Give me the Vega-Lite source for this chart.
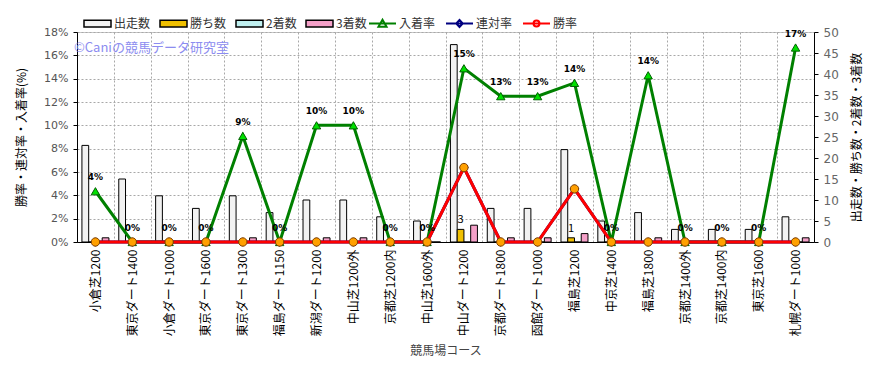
{
  "$schema": "https://vega.github.io/schema/vega-lite/v6.json",
  "width": 737,
  "height": 210,
  "autosize": {"type": "none"},
  "padding": {"left": 77, "top": 32, "right": 68, "bottom": 136},
  "background": "white",
  "config": {
    "font": "Noto Sans CJK JP",
    "view": {"fill": "#FAF0DC", "stroke": "#C8C8C8", "strokeWidth": 1},
    "axis": {"labelFont": "Noto Sans CJK JP", "titleFont": "Noto Sans CJK JP", "labelFontSize": 12, "titleFontSize": 12, "titleFontWeight": "normal"},
    "axisY": {"labelOverlap": false, "labelFont": "DejaVu Sans", "labelFontSize": 11},
    "legend": {"labelFont": "Noto Sans CJK JP", "labelFontSize": 12, "labelColor": "#333333"}
  },
  "datasets": {
    "main": [
      {"course": "小倉芝1200", "出走数": 23, "勝ち数": 0, "2着数": 0, "3着数": 1, "入着率": 0.0435, "連対率": 0, "勝率": 0},
      {"course": "東京ダート1400", "出走数": 15, "勝ち数": 0, "2着数": 0, "3着数": 0, "入着率": 0, "連対率": 0, "勝率": 0},
      {"course": "小倉ダート1000", "出走数": 11, "勝ち数": 0, "2着数": 0, "3着数": 0, "入着率": 0, "連対率": 0, "勝率": 0},
      {"course": "東京ダート1600", "出走数": 8, "勝ち数": 0, "2着数": 0, "3着数": 0, "入着率": 0, "連対率": 0, "勝率": 0},
      {"course": "東京ダート1300", "出走数": 11, "勝ち数": 0, "2着数": 0, "3着数": 1, "入着率": 0.0909, "連対率": 0, "勝率": 0},
      {"course": "福島ダート1150", "出走数": 7, "勝ち数": 0, "2着数": 0, "3着数": 0, "入着率": 0, "連対率": 0, "勝率": 0},
      {"course": "新潟ダート1200", "出走数": 10, "勝ち数": 0, "2着数": 0, "3着数": 1, "入着率": 0.1, "連対率": 0, "勝率": 0},
      {"course": "中山芝1200外", "出走数": 10, "勝ち数": 0, "2着数": 0, "3着数": 1, "入着率": 0.1, "連対率": 0, "勝率": 0},
      {"course": "京都芝1200内", "出走数": 6, "勝ち数": 0, "2着数": 0, "3着数": 0, "入着率": 0, "連対率": 0, "勝率": 0},
      {"course": "中山芝1600外", "出走数": 5, "勝ち数": 0, "2着数": 0, "3着数": 0, "入着率": 0, "連対率": 0, "勝率": 0},
      {"course": "中山ダート1200", "出走数": 47, "勝ち数": 3, "2着数": 0, "3着数": 4, "入着率": 0.1489, "連対率": 0.0638, "勝率": 0.0638},
      {"course": "京都ダート1800", "出走数": 8, "勝ち数": 0, "2着数": 0, "3着数": 1, "入着率": 0.125, "連対率": 0, "勝率": 0},
      {"course": "函館ダート1000", "出走数": 8, "勝ち数": 0, "2着数": 0, "3着数": 1, "入着率": 0.125, "連対率": 0, "勝率": 0},
      {"course": "福島芝1200", "出走数": 22, "勝ち数": 1, "2着数": 0, "3着数": 2, "入着率": 0.1364, "連対率": 0.0455, "勝率": 0.0455},
      {"course": "中京芝1400", "出走数": 5, "勝ち数": 0, "2着数": 0, "3着数": 0, "入着率": 0, "連対率": 0, "勝率": 0},
      {"course": "福島芝1800", "出走数": 7, "勝ち数": 0, "2着数": 0, "3着数": 1, "入着率": 0.1429, "連対率": 0, "勝率": 0},
      {"course": "京都芝1400外", "出走数": 3, "勝ち数": 0, "2着数": 0, "3着数": 0, "入着率": 0, "連対率": 0, "勝率": 0},
      {"course": "京都芝1400内", "出走数": 3, "勝ち数": 0, "2着数": 0, "3着数": 0, "入着率": 0, "連対率": 0, "勝率": 0},
      {"course": "東京芝1600", "出走数": 3, "勝ち数": 0, "2着数": 0, "3着数": 0, "入着率": 0, "連対率": 0, "勝率": 0},
      {"course": "札幌ダート1000", "出走数": 6, "勝ち数": 0, "2着数": 0, "3着数": 1, "入着率": 0.1667, "連対率": 0, "勝率": 0}
    ],
    "legendSeries": [
      {"series": "入着率"}, {"series": "連対率"}, {"series": "勝率"}
    ],
    "mark": [
      {"t": "©Caniの競馬データ研究室", "course": "小倉芝1200", "v": 0.1665}
    ]
  },
  "layer": [
    {
      "data": {"name": "main"},
      "transform": [{"fold": ["出走数", "勝ち数", "2着数", "3着数"], "as": ["key", "value"]}],
      "layer": [
        {
          "mark": {"type": "bar", "stroke": "black", "strokeWidth": 1},
          "encoding": {
            "x": {
              "field": "course", "type": "nominal", "sort": null,
              "scale": {"paddingInner": 0, "paddingOuter": 0},
              "axis": {
                "title": "競馬場コース", "labelAngle": -90, "labelColor": "black", "labelFontSize": 12,
                "ticks": false, "domainColor": "black", "grid": true, "gridDash": [2, 2], "gridColor": "#A8A8A8",
                "tickBand": "extent", "labelPadding": 7, "titleColor": "#444444", "titlePadding": 10
              }
            },
            "xOffset": {"field": "key", "type": "nominal", "sort": ["出走数", "勝ち数", "2着数", "3着数"], "scale": {"paddingInner": 0, "paddingOuter": 0.73}},
            "y": {
              "field": "value", "type": "quantitative",
              "scale": {"domain": [0, 50], "nice": false},
              "axis": {
                "orient": "right", "title": "出走数・勝ち数・2着数・3着数", "titleAngle": 270, "titleBaseline": "top",
                "values": [0, 5, 10, 15, 20, 25, 30, 35, 40, 45, 50], "tickCount": 20, "grid": false, "labelOverlap": false,
                "domainColor": "black", "tickColor": "black", "tickSize": 4, "labelColor": "#666666", "labelFontSize": 12,
                "labelPadding": 5, "titleColor": "black", "titlePadding": 13
              }
            },
            "fill": {
              "field": "key", "type": "nominal",
              "scale": {"domain": ["出走数", "勝ち数", "2着数", "3着数"], "range": ["#F2F2F2", "#F0C000", "#C0F0F0", "#F4A0C8"]},
              "legend": {
                "orient": "none", "legendX": 6, "legendY": -23, "direction": "horizontal", "title": null,
                "symbolType": "M-1,-0.25H1V0.25H-1Z", "symbolSize": 729, "symbolStrokeColor": "black",
                "symbolStrokeWidth": 1.5, "labelOffset": 2, "columnPadding": 6, "gridAlign": "none"
              }
            }
          }
        },
        {
          "transform": [{"filter": "datum.key === '勝ち数' && datum.value > 0"}],
          "mark": {"type": "text", "dy": -9, "fontSize": 11, "color": "black"},
          "encoding": {
            "x": {"field": "course", "type": "nominal", "sort": null},
            "xOffset": {"field": "key", "type": "nominal", "sort": ["出走数", "勝ち数", "2着数", "3着数"]},
            "y": {"field": "value", "type": "quantitative"},
            "text": {"field": "value", "type": "quantitative"}
          }
        }
      ]
    },
    {
      "layer": [
        {
          "data": {"name": "main"},
          "transform": [{"fold": ["入着率", "連対率", "勝率"], "as": ["series", "rate"]}],
          "mark": {"type": "line", "strokeWidth": 3},
          "encoding": {
            "x": {"field": "course", "type": "nominal", "sort": null},
            "y": {
              "field": "rate", "type": "quantitative",
              "scale": {"domain": [0, 0.18], "nice": false},
              "axis": {
                "orient": "left", "title": "勝率・連対率・入着率(%)", "format": ".0%",
                "values": [0, 0.02, 0.04, 0.06, 0.08, 0.1, 0.12, 0.14, 0.16, 0.18], "tickCount": 20, "labelOverlap": false,
                "grid": true, "gridDash": [2, 2], "gridColor": "#A8A8A8", "domainColor": "black",
                "tickColor": "black", "tickSize": 4, "labelColor": "#555555", "labelPadding": 5,
                "titlePadding": 15, "titleColor": "black"
              }
            },
            "stroke": {
              "field": "series", "type": "nominal",
              "scale": {"domain": ["入着率", "連対率", "勝率"], "range": ["#008000", "#000080", "#FF0000"]},
              "legend": {
                "orient": "none", "legendX": 291, "legendY": -23, "direction": "horizontal", "title": null,
                "symbolSize": 729, "symbolStrokeWidth": 2, "symbolOpacity": 1, "labelOffset": 2, "columnPadding": 6, "gridAlign": "none"
              }
            }
          }
        },
        {
          "data": {"name": "main"},
          "transform": [{"fold": ["入着率", "連対率", "勝率"], "as": ["series", "rate"]}],
          "mark": {"type": "point", "filled": true, "size": 70, "strokeWidth": 1, "opacity": 1},
          "encoding": {
            "x": {"field": "course", "type": "nominal", "sort": null},
            "y": {"field": "rate", "type": "quantitative"},
            "shape": {"condition": [{"test": "datum.series === '入着率'", "value": "triangle-up"}, {"test": "datum.series === '連対率'", "value": "diamond"}], "value": "circle"},
            "fill": {"condition": [{"test": "datum.series === '入着率'", "value": "#00E000"}, {"test": "datum.series === '連対率'", "value": "#00E0E0"}], "value": "#FFA000"},
            "stroke": {"condition": [{"test": "datum.series === '入着率'", "value": "#006000"}, {"test": "datum.series === '連対率'", "value": "#000080"}], "value": "#804000"}
          }
        },
        {
          "data": {"name": "main"},
          "mark": {"type": "text", "dy": -14, "fontSize": 9, "fontWeight": "bold", "color": "black", "font": "DejaVu Sans"},
          "encoding": {
            "x": {"field": "course", "type": "nominal", "sort": null},
            "y": {"field": "入着率", "type": "quantitative"},
            "text": {"field": "入着率", "type": "quantitative", "format": ".0%"}
          }
        },
        {
          "data": {"name": "mark"},
          "mark": {"type": "text", "align": "left", "baseline": "middle", "fontSize": 13, "color": "#8C8CF0", "dx": -3},
          "encoding": {
            "x": {"field": "course", "type": "nominal", "sort": null, "bandPosition": 0},
            "y": {"field": "v", "type": "quantitative"},
            "text": {"field": "t"}
          }
        },
        {
          "data": {"name": "legendSeries"},
          "mark": {"type": "point", "filled": true, "opacity": 0},
          "encoding": {
            "stroke": {"field": "series", "type": "nominal"},
            "color": {
              "field": "series", "type": "nominal",
              "scale": {"domain": ["入着率", "連対率", "勝率"], "range": ["#00E000", "#00E0E0", "#FFA000"]},
              "legend": {
                "orient": "none", "legendX": 291, "legendY": -23, "direction": "horizontal", "title": null,
                "symbolSize": 729, "symbolStrokeWidth": 2, "symbolOpacity": 1, "labelOffset": 2, "columnPadding": 6, "gridAlign": "none"
              }
            },
            "shape": {
              "field": "series", "type": "nominal",
              "scale": {"domain": ["入着率", "連対率", "勝率"], "range": [
                "M-1,0H1M-0.3,0.24L0,-0.28L0.3,0.24Z",
                "M-1,0H1M0,-0.26L0.24,0L0,0.26L-0.24,0Z",
                "M-1,0H1M-0.22,0A0.22,0.22 0 1 0 0.22,0A0.22,0.22 0 1 0 -0.22,0Z"
              ]},
              "legend": {
                "orient": "none", "legendX": 291, "legendY": -23, "direction": "horizontal", "title": null,
                "symbolSize": 729, "symbolStrokeWidth": 2, "symbolOpacity": 1, "labelOffset": 2, "columnPadding": 6, "gridAlign": "none"
              }
            }
          }
        }
      ]
    }
  ],
  "resolve": {"scale": {"y": "independent"}}
}
